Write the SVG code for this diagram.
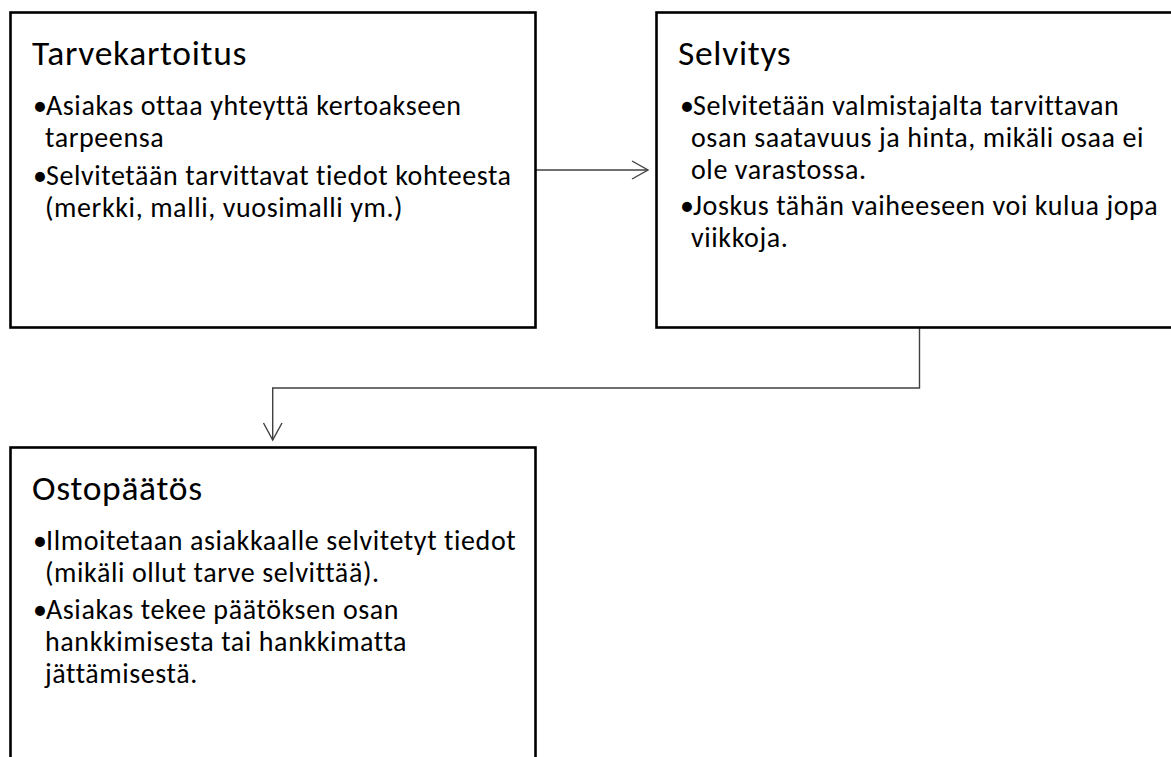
<svg xmlns="http://www.w3.org/2000/svg" width="1171" height="757" viewBox="0 0 1171 757">
<style>
.box{fill:#fff;stroke:#000;stroke-width:2.6}
.t{font-family:Carlito,Lato,"Liberation Sans",sans-serif;fill:#000}
.h{font-size:35.5px;letter-spacing:0.7px}
.b{font-size:28px;letter-spacing:0.6px}
.c{fill:none;stroke:#404040;stroke-width:1.4}
</style>
<rect width="1171" height="757" fill="#fff"/>
<g id="connectors">
<path class="c" d="M536,170 H648"/>
<path class="c" d="M632,161 L648,170 L632,179"/>
<path class="c" d="M919.5,328 V388 H272.7 V440"/>
<path class="c" d="M263.5,423 L272.7,440 L282,423"/>
</g>
<g id="tarvekartoitus">
<rect class="box" x="10.5" y="12.5" width="525" height="315"/>
<text class="t h" x="32" y="65">Tarvekartoitus</text>
<text class="t b" x="33" y="115">•</text>
<text class="t b" x="46" y="115">Asiakas ottaa yhteyttä kertoakseen</text>
<text class="t b" x="45" y="147">tarpeensa</text>
<text class="t b" x="33" y="185">•</text>
<text class="t b" x="46" y="185">Selvitetään tarvittavat tiedot kohteesta</text>
<text class="t b" x="45" y="217">(merkki, malli, vuosimalli ym.)</text>
</g>
<g id="selvitys">
<rect class="box" x="656.5" y="12.5" width="530" height="315"/>
<text class="t h" x="678" y="65">Selvitys</text>
<text class="t b" x="680" y="115">•</text>
<text class="t b" x="693" y="115">Selvitetään valmistajalta tarvittavan</text>
<text class="t b" x="691" y="147">osan saatavuus ja hinta, mikäli osaa ei</text>
<text class="t b" x="691" y="179">ole varastossa.</text>
<text class="t b" x="680" y="215">•</text>
<text class="t b" x="693" y="215">Joskus tähän vaiheeseen voi kulua jopa</text>
<text class="t b" x="691" y="247">viikkoja.</text>
</g>
<g id="ostopaatos">
<rect class="box" x="10.5" y="447.5" width="525" height="330"/>
<text class="t h" x="32" y="500">Ostopäätös</text>
<text class="t b" x="33" y="550">•</text>
<text class="t b" x="46" y="550">Ilmoitetaan asiakkaalle selvitetyt tiedot</text>
<text class="t b" x="45" y="582">(mikäli ollut tarve selvittää).</text>
<text class="t b" x="33" y="619">•</text>
<text class="t b" x="46" y="619">Asiakas tekee päätöksen osan</text>
<text class="t b" x="45" y="651">hankkimisesta tai hankkimatta</text>
<text class="t b" x="45" y="683">jättämisestä.</text>
</g>
</svg>
